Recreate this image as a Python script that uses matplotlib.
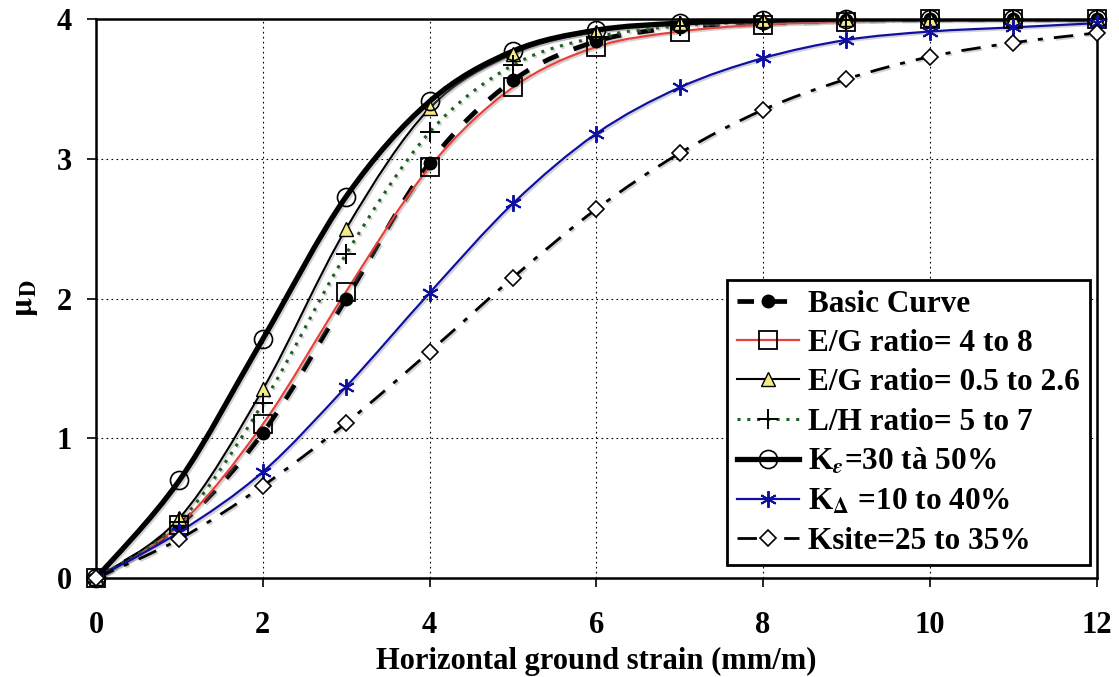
import numpy as np
import matplotlib
matplotlib.use("Agg")
import matplotlib.pyplot as plt
from matplotlib.path import Path
from matplotlib.patches import PathPatch
from matplotlib.lines import Line2D
import matplotlib.patheffects as pe

plt.rcParams['font.family'] = ['Liberation Serif', 'DejaVu Serif']
plt.rcParams['font.weight'] = 'bold'
plt.rcParams['mathtext.fontset'] = 'stix'

strain = [0, 1, 2, 3, 4, 5, 6, 7, 8, 9, 10, 11, 12]
basic = [0, 0.38, 1.04, 2.0, 2.97, 3.56, 3.84, 3.94, 3.97, 3.99, 4.0, 4.0, 4.0]
eg_high = [0, 0.38, 1.1, 2.05, 2.94, 3.51, 3.80, 3.91, 3.96, 3.98, 4.0, 4.0, 4.0]
eg_low = [0, 0.43, 1.35, 2.50, 3.36, 3.75, 3.91, 3.97, 3.99, 4.0, 4.0, 4.0, 4.0]
lh = [0, 0.40, 1.25, 2.32, 3.19, 3.67, 3.87, 3.95, 3.98, 3.99, 4.0, 4.0, 4.0]
k_eps = [0, 0.70, 1.71, 2.73, 3.41, 3.77, 3.92, 3.97, 3.99, 4.0, 4.0, 4.0, 4.0]
k_delta = [0, 0.33, 0.76, 1.37, 2.04, 2.68, 3.18, 3.51, 3.72, 3.85, 3.91, 3.94, 3.97]
k_site = [0, 0.28, 0.66, 1.11, 1.62, 2.15, 2.64, 3.04, 3.35, 3.57, 3.73, 3.83, 3.90]

labels = ["Basic Curve", "E/G ratio= 4 to 8", "E/G ratio= 0.5 to 2.6",
          "L/H ratio= 5 to 7", r"K$_{\epsilon}$=30 tà 50%",
          r"K$_{\Delta}$ =10 to 40%", "Ksite=25 to 35%"]
x_ticks = [0, 2, 4, 6, 8, 10, 12]
y_ticks = [0, 1, 2, 3, 4]

fig = plt.figure(figsize=(11.19, 6.77), dpi=100)
ax = fig.add_axes([0.0858, 0.146, 0.8942, 0.826])


def smooth_path(xs, ys):
    pts = np.column_stack([xs, ys]).astype(float)
    n = len(pts)
    verts = [pts[0]]
    codes = [Path.MOVETO]
    for i in range(n - 1):
        p0 = pts[i - 1] if i > 0 else pts[i]
        p1 = pts[i]
        p2 = pts[i + 1]
        p3 = pts[i + 2] if i + 2 < n else pts[i + 1]
        c1 = p1 + (p2 - p0) / 6.0
        c2 = p2 - (p3 - p1) / 6.0
        verts += [c1, c2, p2]
        codes += [Path.CURVE4] * 3
    return Path(verts, codes)


styles = [
    dict(y=basic, color='black', lw=3.4, ls=(0, (3.5, 3.5)), marker='o', ms=9,
         mfc='black', mec='black', mew=1),
    dict(y=eg_high, color='#e8413a', lw=1.6, ls='-', marker='s', ms=13,
         mfc='none', mec='black', mew=1.3),
    dict(y=eg_low, color='black', lw=1.5, ls='-', marker='^', ms=10,
         mfc='#f3ea86', mec='black', mew=1.0),
    dict(y=lh, color='#1f5f1f', lw=2.2, ls=(0, (1.0, 2.2)), marker='+', ms=15,
         mfc='none', mec='black', mew=1.4),
    dict(y=k_eps, color='black', lw=3.8, ls='-', marker='o', ms=13,
         mfc='none', mec='black', mew=1.2),
    dict(y=k_delta, color='#1010a0', lw=1.6, ls='-', marker=(6, 2, 0), ms=12,
         mfc='none', mec='#1010a0', mew=1.4),
    dict(y=k_site, color='black', lw=2.0, ls=(0, (7, 4, 1.8, 4)), marker='D', ms=8,
         mfc='white', mec='black', mew=1.2),
]

shadow = [pe.SimpleLineShadow(offset=(1.2, -1.2), shadow_color='gray', alpha=0.35), pe.Normal()]

handles = []
for st, lab in zip(styles, labels):
    patch = PathPatch(smooth_path(strain, st['y']), fill=False, edgecolor=st['color'],
                      lw=st['lw'], linestyle=st['ls'], transform=ax.transData,
                      capstyle='butt', zorder=3, path_effects=shadow)
    ax.add_patch(patch)
    ax.plot(strain, st['y'], ls='none', marker=st['marker'], ms=st['ms'],
            mfc=st['mfc'], mec=st['mec'], mew=st['mew'], zorder=4, clip_on=False)
    handles.append(Line2D([], [], color=st['color'], lw=st['lw'], ls=st['ls'],
                          marker=st['marker'], ms=st['ms'], mfc=st['mfc'],
                          mec=st['mec'], mew=st['mew']))

ax.set_xlim(0, 12)
ax.set_ylim(0, 4)
ax.set_xticks(x_ticks)
ax.set_yticks(y_ticks)
ax.grid(True, color='black', ls=(0, (1.5, 3)), lw=0.8)
ax.tick_params(direction='out', length=6.5, width=1.2, labelsize=22)
ax.tick_params(axis='x', pad=17)
ax.tick_params(axis='y', pad=11)
for lbl in ax.get_xticklabels() + ax.get_yticklabels():
    lbl.set_fontweight('bold')
for sp in ax.spines.values():
    sp.set_linewidth(1.8)

ax.set_xlabel("Horizontal ground strain (mm/m)", fontsize=22, fontweight='bold', labelpad=5)
ax.set_ylabel(r"$\mathbf{\mu}_{\mathbf{D}}$", fontsize=23, labelpad=12)

leg = ax.legend(handles, labels, loc='lower right', bbox_to_anchor=(0.993, 0.023),
                prop={'weight': 'bold', 'size': 22.5}, frameon=True,
                fancybox=False, edgecolor='black', framealpha=1,
                handlelength=2.0, handletextpad=0.3, labelspacing=0.33,
                borderpad=0.3, borderaxespad=0)
leg.get_frame().set_linewidth(2.0)

fig.savefig("out.png", dpi=100)
